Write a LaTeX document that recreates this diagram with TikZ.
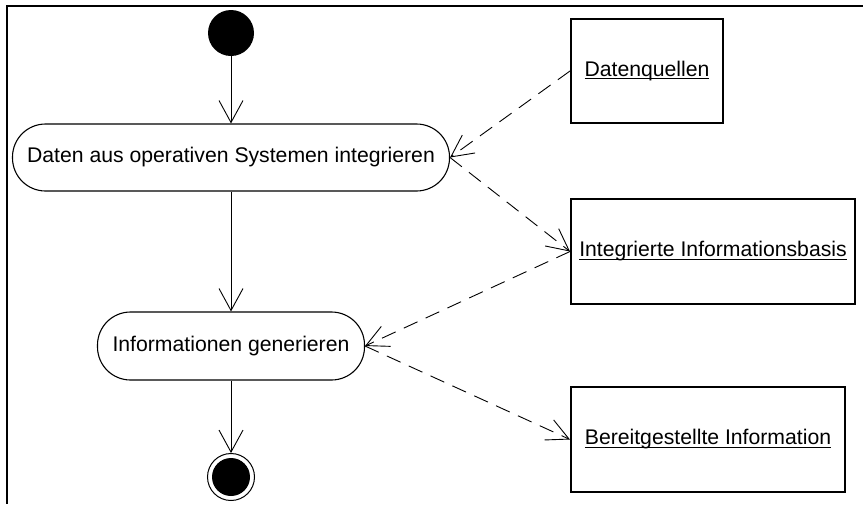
\documentclass[tikz,border=0pt]{standalone}
\usepackage{fontspec}
\setmainfont{Liberation Sans}
\usetikzlibrary{arrows.meta}
% underline set just below the baseline
\newcommand\objtext[1]{\setbox0\hbox{#1}\rlap{\rule[-3pt]{\wd0}{1.3pt}}\box0}
\begin{document}
\begin{tikzpicture}[x=1pt,y=-1pt,
  every node/.style={font=\fontsize{21.2}{25}\selectfont},
  action/.style={draw, line width=1.1pt, rounded corners=33pt, inner sep=0pt, align=center},
  objbox/.style={draw, line width=2pt, inner sep=0pt},
  flow/.style={line width=0.9pt, -{Straight Barb[length=22pt,width=24pt,line width=0.9pt]}},
  objflow/.style={line width=0.9pt, dash pattern=on 15pt off 9pt, -{Straight Barb[length=22pt,width=22pt,line width=0.9pt]}},
]
\useasboundingbox (0,0) rectangle (863,504);

% frame (top and left edges only)
\draw[line width=2.8pt] (863,6) -- (7,6) -- (7,504);

% start and end states
\node[circle, fill, minimum size=46pt, inner sep=0pt] (start) at (231,33) {};
\node[circle, draw, line width=1pt, minimum size=47pt, inner sep=0pt] (final) at (231,477) {};
\fill (final.center) circle[radius=19pt];

% actions
\node[action, minimum width=437pt, minimum height=67pt] (a1) at (231,157.5) {Daten aus operativen Systemen integrieren};
\node[action, minimum width=267pt, minimum height=68pt] (a2) at (231,346) {Informationen generieren};

% object nodes
\node[objbox, minimum width=152pt, minimum height=104pt] (o1) at (647,71) {\objtext{Datenquellen}};
\node[objbox, minimum width=284pt, minimum height=105pt] (o2) at (713,251.5) {\objtext{Integrierte Informationsbasis}};
\node[objbox, minimum width=274pt, minimum height=105pt] (o3) at (708,439.5) {\objtext{Bereitgestellte Information}};

% control flow
\draw[flow] (start) -- (a1.north);
\draw[flow] (a1.south) -- (a2.north);
\draw[flow] (a2.south) -- (final.north);

% object flow
\draw[objflow] (o1.west) -- (a1.east);
\draw[objflow] (a1.east) -- (o2.west);
\draw[objflow] (o2.west) -- (a2.east);
\draw[objflow] (a2.east) -- (o3.west);
\end{tikzpicture}
\end{document}
